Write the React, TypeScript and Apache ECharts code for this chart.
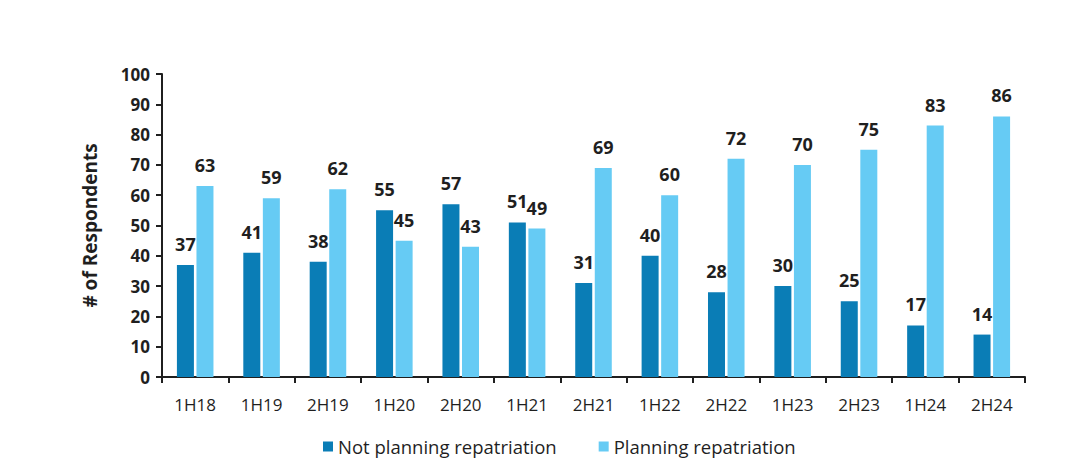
import { useEffect, useRef } from 'react';
import * as echarts from 'echarts';

const categories = ['1H18', '1H19', '2H19', '1H20', '2H20', '1H21', '2H21', '1H22', '2H22', '1H23', '2H23', '1H24', '2H24'];
const notPlanning = [37, 41, 38, 55, 57, 51, 31, 40, 28, 30, 25, 17, 14];
const planning = [63, 59, 62, 45, 43, 49, 69, 60, 72, 70, 75, 83, 86];
const seriesNames = ['Not planning repatriation', 'Planning repatriation'];

const font = '"Open Sans", "Noto Sans", sans-serif';
const ink = '#1f1f1f';

export default function App() {
  const ref = useRef<HTMLDivElement>(null);

  useEffect(() => {
    if (!ref.current) return;
    const chart = echarts.init(ref.current, undefined, { renderer: 'svg' });
    const label = {
      show: true,
      position: 'top' as const,
      distance: 12,
      color: ink,
      fontFamily: font,
      fontWeight: 'bold' as const,
      fontSize: 18,
    };
    chart.setOption({
      animation: false,
      textStyle: { fontFamily: font },
      grid: { left: 162, right: 63, top: 74, bottom: 97 },
      legend: {
        left: 318,
        top: 432,
        itemWidth: 10,
        itemHeight: 10,
        itemGap: 42,
        icon: 'rect',
        textStyle: { fontSize: 18.5, color: ink, fontFamily: font },
        data: seriesNames,
      },
      xAxis: {
        type: 'category',
        data: categories,
        axisLine: { lineStyle: { color: ink, width: 2 } },
        axisTick: { show: true, length: 6, lineStyle: { color: ink, width: 2 } },
        axisLabel: { color: ink, fontSize: 17, margin: 19, fontFamily: font },
      },
      yAxis: {
        type: 'value',
        min: 0,
        max: 100,
        interval: 10,
        name: '# of Respondents',
        nameLocation: 'middle',
        nameGap: 63,
        nameTextStyle: { fontSize: 19, fontWeight: 'bold', color: ink, fontFamily: font },
        axisLine: { show: true, lineStyle: { color: ink, width: 2 } },
        axisTick: { show: true, length: 6, lineStyle: { color: ink, width: 2 } },
        axisLabel: { color: ink, fontSize: 17, fontWeight: 'bold', margin: 12, fontFamily: font },
        splitLine: { show: false },
      },
      series: [
        {
          name: seriesNames[0],
          type: 'bar',
          data: notPlanning,
          itemStyle: { color: '#0a7db6' },
          barWidth: 17,
          barGap: '15%',
          label,
        },
        {
          name: seriesNames[1],
          type: 'bar',
          data: planning,
          itemStyle: { color: '#66cbf4' },
          barWidth: 17,
          label,
        },
      ],
    });
    return () => chart.dispose();
  }, []);

  return (
    <div
      ref={ref}
      style={{ position: 'fixed', left: 0, top: 0, width: 1088, height: 474, background: '#fff' }}
    />
  );
}
